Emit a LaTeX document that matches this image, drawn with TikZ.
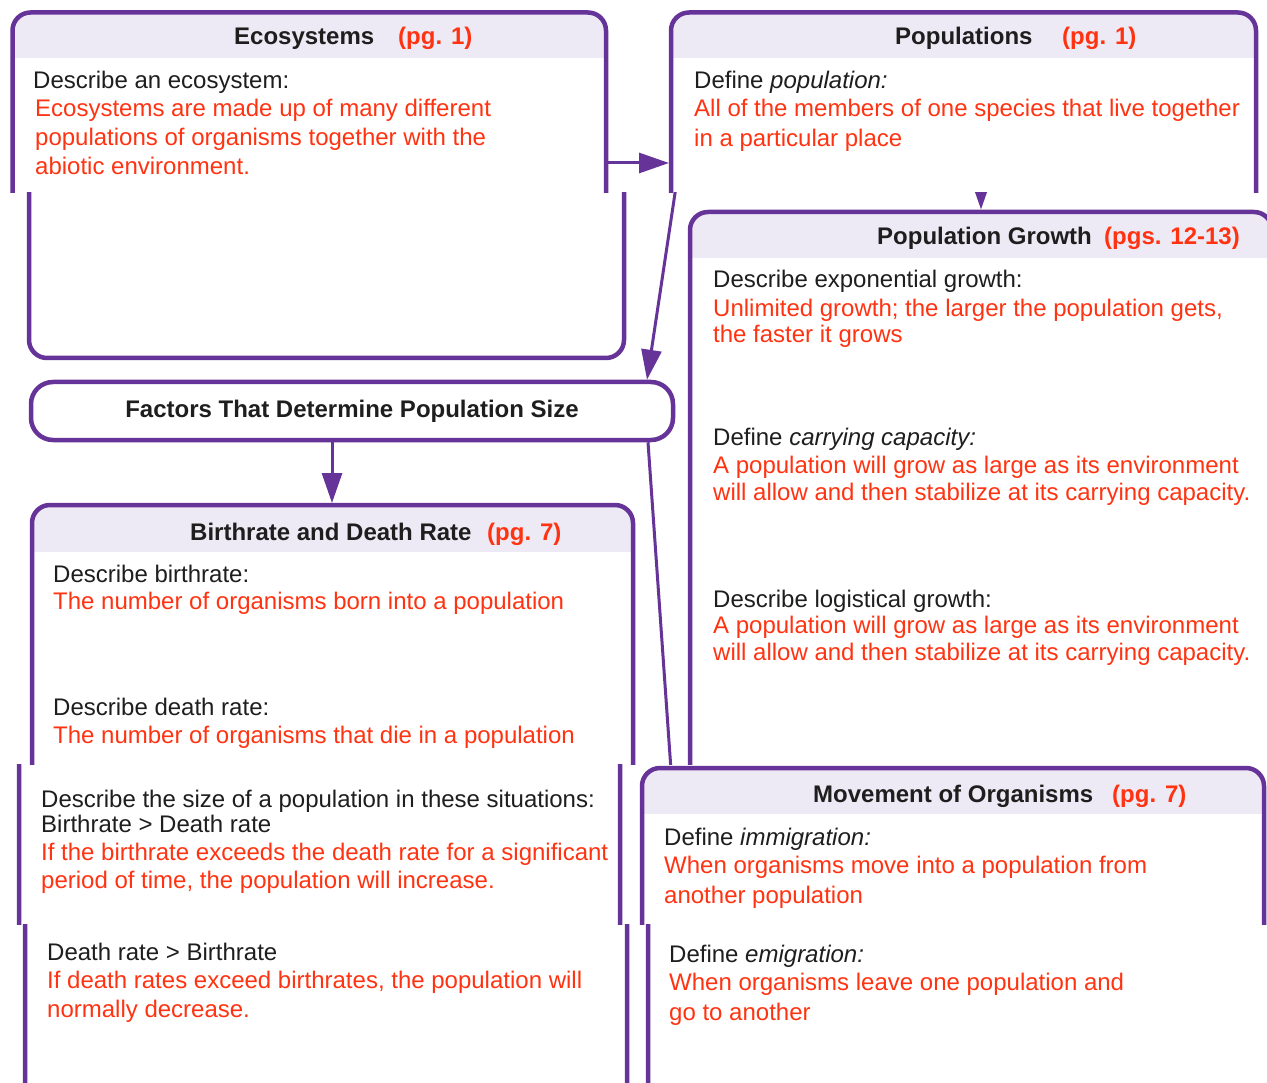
\documentclass[tikz,border=0pt]{standalone}
\usepackage{fontspec}
\setmainfont{Liberation Sans}
\usetikzlibrary{arrows.meta}
\definecolor{pur}{HTML}{663399}
\definecolor{lav}{HTML}{EEEAF5}
\definecolor{ansred}{HTML}{FF3311}
\definecolor{ink}{HTML}{1E1E1E}
\newcommand\bodyfont{\fontsize{24}{28}\selectfont}
\newcommand\headfont{\fontsize{24}{28}\selectfont\bfseries}
\tikzset{
  bx/.style={draw=pur, line width=4.5pt, rounded corners=18pt},
  blk/.style={anchor=base west, inner sep=0pt, font=\bodyfont, text=ink},
  ans/.style={blk, text=ansred},
  ttl/.style={anchor=base west, inner sep=0pt, font=\headfont, text=ink},
  pgref/.style={ttl, text=ansred},
  con/.style={draw=pur, line width=3pt},
  arr/.style={con, -{Triangle[length=30pt,width=20pt]}},
}
\newcommand\boxpart[5]{%
  \begin{scope}
    \clip[rounded corners=18pt] (#1,#2) rectangle (#3,#4);
    \fill[lav] (#1,#2) rectangle (#3,#5);
  \end{scope}
  \draw[bx] (#1,#2) rectangle (#3,#4);}
\begin{document}
\begin{tikzpicture}[x=1pt,y=-1pt]
\useasboundingbox[fill=white] (0,0) rectangle (1267,1083);

% ---------- strip 1 ----------
\begin{scope}
\clip (0,0) rectangle (1267,193);
\boxpart{12.5}{12.5}{606}{400}{58}
\boxpart{671}{12.5}{1256}{400}{58}
\node[ttl] (ecoT) at (234,45) {Ecosystems};
\node[pgref] (ecoP) at (398,45) {(pg. 1)};
\node[blk] (e1) at (33,89) {Describe an ecosystem:};
\node[ans] (e2) at (35,117) {Ecosystems are made up of many different};
\node[ans] (e3) at (35,146) {populations of organisms together with the};
\node[ans] (e4) at (35,175) {abiotic environment.};
\node[ttl] (popT) at (895,45) {Populations};
\node[pgref] (popP) at (1062,45) {(pg. 1)};
\node[blk] (p1) at (694,89) {Define \textit{population:}};
\node[ans] (p2) at (694,117) {All of the members of one species that live together};
\node[ans] (p3) at (694,147) {in a particular place};
\coordinate (ecoR) at (608,163);
\coordinate (popL) at (669,163);
\draw[arr] (ecoR) -- (popL);
\end{scope}

% ---------- strip 2 ----------
\begin{scope}
\clip (0,193) rectangle (1267,764);
\draw[bx] (29,-200) rectangle (624,358);
\boxpart{690}{212}{1272}{1100}{258}
\boxpart{32}{505}{633}{1100}{552}
\node[bx, rounded corners=22pt, fill=white, minimum width=642pt, minimum height=58pt,
      inner sep=0pt, font=\headfont, text=ink] (factors) at (352,411)
      {Factors That Determine Population Size};
\coordinate (popBot) at (981,150);
\coordinate (pgTop) at (981,209.5);
\draw[arr] (popBot) -- (pgTop);
\coordinate (popBL) at (680,160);
\draw[arr] (popBL) -- (factors.north -| 647,0);
\coordinate (movTL) at (671,770);
\draw[con] (factors.south -| 648,0) -- (movTL);
\coordinate (brTop) at (332,503);
\draw[arr] (factors.south -| 332,0) -- (brTop);
\node[ttl] (pgT) at (877,245) {Population Growth};
\node[pgref] (pgP) at (1104,245) {(pgs. 12-13)};
\node[blk] (g1) at (713,288) {Describe exponential growth:};
\node[ans] (g2) at (713,317) {Unlimited growth; the larger the population gets,};
\node[ans] (g3) at (713,343) {the faster it grows};
\node[blk] (g4) at (713,445) {Define \textit{carrying capacity:}};
\node[ans] (g5) at (713,473) {A population will grow as large as its environment};
\node[ans] (g6) at (713,500) {will allow and then stabilize at its carrying capacity.};
\node[blk] (g7) at (713,607) {Describe logistical growth:};
\node[ans] (g8) at (713,633) {A population will grow as large as its environment};
\node[ans] (g9) at (713,660) {will allow and then stabilize at its carrying capacity.};
\node[ttl] (brT) at (190,540) {Birthrate and Death Rate};
\node[pgref] (brP) at (487,540) {(pg. 7)};
\node[blk] (b1) at (53,582) {Describe birthrate:};
\node[ans] (b2) at (53,609) {The number of organisms born into a population};
\node[blk] (b3) at (53,715) {Describe death rate:};
\node[ans] (b4) at (53,743) {The number of organisms that die in a population};
\end{scope}

% ---------- strip 3 ----------
\begin{scope}
\clip (0,764) rectangle (1267,924);
\draw[bx] (19,600) rectangle (620,1200);
\boxpart{642}{768}{1264}{1200}{814}
\node[blk] (b5) at (41,807) {Describe the size of a population in these situations:};
\node[blk] (b6) at (41,832) {Birthrate > Death rate};
\node[ans] (b7) at (41,860) {If the birthrate exceeds the death rate for a significant};
\node[ans] (b8) at (41,888) {period of time, the population will increase.};
\node[ttl] (mvT) at (813,802) {Movement of Organisms};
\node[pgref] (mvP) at (1112,802) {(pg. 7)};
\node[blk] (m1) at (664,845) {Define \textit{immigration:}};
\node[ans] (m2) at (664,873) {When organisms move into a population from};
\node[ans] (m3) at (664,903) {another population};
\end{scope}

% ---------- strip 4 ----------
\begin{scope}
\clip (0,924) rectangle (1267,1083);
\draw[bx] (25,600) rectangle (627,1200);
\draw[bx] (648,600) rectangle (1290,1200);
\node[blk] (b9) at (47,960) {Death rate > Birthrate};
\node[ans] (b10) at (47,988) {If death rates exceed birthrates, the population will};
\node[ans] (b11) at (47,1017) {normally decrease.};
\node[blk] (m4) at (669,962) {Define \textit{emigration:}};
\node[ans] (m5) at (669,990) {When organisms leave one population and};
\node[ans] (m6) at (669,1020) {go to another};
\end{scope}
\end{tikzpicture}
\end{document}
